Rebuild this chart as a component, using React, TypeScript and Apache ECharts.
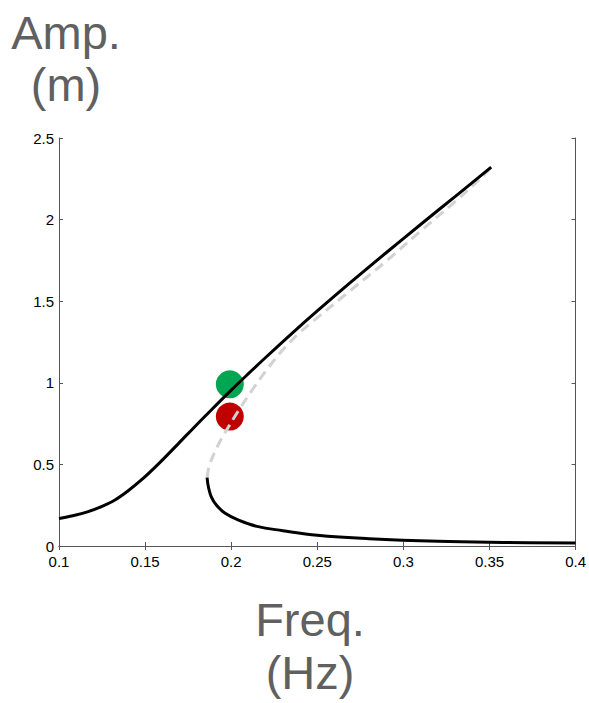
import React, { useEffect, useRef } from "react";
import * as echarts from "echarts";

// Upper stable branch (solid black)
const upperX = [0.1, 0.108, 0.117, 0.125, 0.1325, 0.14, 0.148, 0.156, 0.1634, 0.17, 0.177, 0.188, 0.2, 0.21, 0.22, 0.235, 0.25, 0.27, 0.29, 0.31, 0.33, 0.351];
const upperY = [0.168, 0.185, 0.211, 0.243, 0.282, 0.337, 0.406, 0.485, 0.563, 0.635, 0.711, 0.829, 0.955, 1.056, 1.155, 1.3, 1.44, 1.621, 1.797, 1.97, 2.141, 2.322];

// Unstable branch (grey dashed)
const unstableX = [0.186, 0.1868, 0.1886, 0.1915, 0.1954, 0.204, 0.2128, 0.221, 0.229, 0.238, 0.247, 0.268, 0.29, 0.31, 0.33, 0.345, 0.352];
const unstableY = [0.419, 0.47, 0.53, 0.6, 0.676, 0.826, 0.965, 1.085, 1.19, 1.29, 1.372, 1.555, 1.745, 1.93, 2.11, 2.255, 2.33];

// Lower stable branch (solid black)
const lowerX = [0.186, 0.1868, 0.1885, 0.1915, 0.1965, 0.204, 0.215, 0.23, 0.25, 0.28, 0.32, 0.36, 0.4];
const lowerY = [0.419, 0.36, 0.3, 0.25, 0.2, 0.16, 0.12, 0.094, 0.066, 0.045, 0.029, 0.022, 0.018];

// Marked points
const greenPoint = [0.1992, 0.991];
const redPoint = [0.1992, 0.793];

const yTitle = ["Amp.", "(m)"];
const xTitle = ["Freq.", "(Hz)"];

const zip = (xs: number[], ys: number[]) => xs.map((x, i) => [x, ys[i]]);

export default function App() {
  const ref = useRef<HTMLDivElement>(null);
  useEffect(() => {
    if (!ref.current) return;
    const chart = echarts.init(ref.current, undefined, { renderer: "svg" });
    const font = "'Liberation Sans', Arial, Helvetica, sans-serif";
    const axisLine = { show: true, lineStyle: { color: "#555", width: 1 } };
    const axisTick = { show: true, inside: true, length: 4, lineStyle: { color: "#555", width: 1 } };
    const titleStyle = { fill: "#606060", fontSize: 47, fontFamily: font, textAlign: "center", textVerticalAlign: "middle" };
    chart.setOption({
      animation: false,
      backgroundColor: "#fff",
      grid: { left: 59, top: 138, width: 517, height: 408, containLabel: false },
      xAxis: [
        {
          type: "value", min: 0.1, max: 0.4, interval: 0.05, position: "bottom",
          axisLine, axisTick, splitLine: { show: false },
          axisLabel: { color: "#000", fontSize: 15, fontFamily: font, margin: 8, lineHeight: 14 },
        },
        {
          type: "value", min: 0.1, max: 0.4, interval: 0.05, position: "top",
          axisLine, axisTick, splitLine: { show: false }, axisLabel: { show: false },
        },
      ],
      yAxis: [
        {
          type: "value", min: 0, max: 2.5, interval: 0.5, position: "left",
          axisLine, axisTick, splitLine: { show: false },
          axisLabel: { color: "#000", fontSize: 15, fontFamily: font, margin: 5, lineHeight: 12 },
        },
        {
          type: "value", min: 0, max: 2.5, interval: 0.5, position: "right",
          axisLine, axisTick, splitLine: { show: false }, axisLabel: { show: false },
        },
      ],
      series: [
        {
          type: "line", data: zip(unstableX, unstableY), smooth: 0.35, showSymbol: false,
          lineStyle: { color: "#d2d2d2", width: 3, type: [10, 6] },
        },
        {
          type: "line", data: zip(upperX, upperY), smooth: 0.35, showSymbol: false,
          lineStyle: { color: "#000", width: 3 },
        },
        {
          type: "line", data: zip(lowerX, lowerY), smooth: 0.4, showSymbol: false,
          lineStyle: { color: "#000", width: 3 },
        },
        {
          type: "scatter", data: [greenPoint], symbolSize: 28,
          itemStyle: { color: "#00a651", opacity: 1 },
        },
        {
          type: "scatter", data: [redPoint], symbolSize: 28,
          itemStyle: { color: "#c00000", opacity: 1 },
        },
      ],
      graphic: [
        { type: "text", x: 66, y: 32, style: { ...titleStyle, text: yTitle[0] } },
        { type: "text", x: 66, y: 84, style: { ...titleStyle, text: yTitle[1] } },
        { type: "text", x: 310, y: 619, style: { ...titleStyle, text: xTitle[0] } },
        { type: "text", x: 310, y: 672, style: { ...titleStyle, text: xTitle[1] } },
      ],
    });
    return () => chart.dispose();
  }, []);
  return <div ref={ref} style={{ width: 589, height: 703, position: "absolute", left: 0, top: 0 }} />;
}
